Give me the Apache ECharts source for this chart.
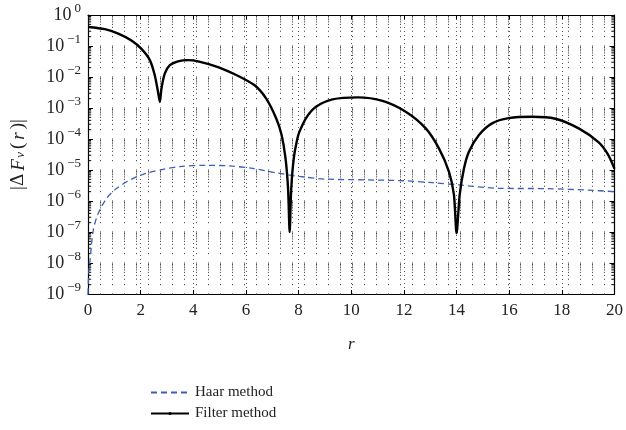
<!DOCTYPE html>
<html>
<head>
<meta charset="utf-8">
<script src="https://cdn.jsdelivr.net/npm/echarts@6/dist/echarts.min.js"></script>
<style>
html,body{margin:0;padding:0;background:#fff;}
#c{width:626px;height:430px;}
</style>
</head>
<body>
<div id="c"></div>
<script>
// ---- data ----
const haarX = [0, 0.03, 0.08, 0.2, 0.39, 0.71, 1.09, 1.72, 2.22, 2.85, 3.48, 4.5, 5.38, 6.26, 7.15, 8.03, 9.0, 10.55, 12.0, 13.08, 14.09, 15.6, 17.5, 19.0, 20];
const haarY = [1e-9, 5e-9, 1.26e-8, 1.15e-7, 4e-7, 1.23e-6, 2.57e-6, 5.4e-6, 7.9e-6, 1.05e-5, 1.29e-5, 1.41e-5, 1.35e-5, 1.12e-5, 8.1e-6, 6.2e-6, 5.1e-6, 4.8e-6, 4.5e-6, 3.9e-6, 3.3e-6, 2.57e-6, 2.5e-6, 2.24e-6, 2.0e-6];

const filterX = [0, 0.64, 1.15, 1.65, 2.03, 2.35, 2.54, 2.66, 2.73, 2.79, 2.92, 3.11, 3.42, 3.8, 4.18, 4.94, 5.69, 6.33, 6.77, 7.15, 7.35, 7.5, 7.6, 7.66, 7.72, 7.82, 7.95, 8.03, 8.3, 8.66, 9.29, 10.24, 11.19, 12.07, 12.83, 13.33, 13.71, 13.9, 14.0, 14.12, 14.28, 14.47, 14.85, 15.35, 15.98, 16.87, 17.75, 18.64, 19.39, 19.75, 20];
const filterY = [4.1e-1, 3.5e-1, 2.5e-1, 1.5e-1, 8.1e-2, 3.5e-2, 1.1e-2, 3.3e-3, 1.55e-3, 4.2e-3, 1.3e-2, 2.4e-2, 3.2e-2, 3.5e-2, 3.2e-2, 2.1e-2, 1.1e-2, 5.4e-3, 2.0e-3, 4.6e-4, 1.4e-4, 2.5e-5, 2.5e-6, 1.0e-7, 2.5e-6, 2.5e-5, 1.0e-4, 1.7e-4, 5.0e-4, 1.1e-3, 1.9e-3, 2.2e-3, 1.7e-3, 7.6e-4, 2.2e-4, 5.0e-5, 8.9e-6, 1.6e-6, 9.1e-8, 1.6e-6, 1.1e-5, 3.9e-5, 1.35e-4, 3.2e-4, 4.7e-4, 5.2e-4, 4.5e-4, 2.2e-4, 7.9e-5, 3.2e-5, 1.1e-5];

const xTicks = [0, 2, 4, 6, 8, 10, 12, 14, 16, 18, 20];
const yDecades = [-9, -8, -7, -6, -5, -4, -3, -2, -1, 0];
const minorMult = [1, 2, 3, 4, 5, 6, 7, 8, 9];
const seriesNames = ['Haar method', 'Filter method'];

// ---- build ----
const serif = 'Liberation Serif';
const pairs = (xs, ys) => xs.map((x, i) => [x, ys[i]]);
const xMin = xTicks[0], xMax = xTicks[xTicks.length - 1];
const tickLen = 0.12;

const gridData = [];
const tickData = [];
yDecades.slice(0, -1).forEach(e => {
  minorMult.forEach(m => {
    const v = m * Math.pow(10, e);
    gridData.push([xMin, v], [xMax, v], ['-', '-']);
    if (m > 1) {
      tickData.push([xMin, v], [xMin + tickLen, v], ['-', '-']);
      tickData.push([xMax - tickLen, v], [xMax, v], ['-', '-']);
    }
  });
});

const supLabel = v => {
  const e = Math.round(Math.log10(v));
  return '{b|10}{s|' + (e < 0 ? '\u2212' + (-e) : String(e)) + '}';
};

const chart = echarts.init(document.getElementById('c'), null, { renderer: 'canvas' });
chart.setOption({
  animation: false,
  backgroundColor: '#fff',
  textStyle: { fontFamily: serif },
  grid: { left: 88, right: 10, top: 15, bottom: 136, containLabel: false },
  legend: {
    orient: 'vertical',
    left: 145,
    top: 380,
    itemWidth: 38,
    itemHeight: 4,
    itemGap: 6,
    data: [
      { name: seriesNames[0], itemStyle: { color: 'rgba(0,0,0,0)', borderWidth: 0 } },
      { name: seriesNames[1], itemStyle: { color: '#000', borderWidth: 0 } }
    ],
    textStyle: { fontFamily: serif, fontSize: 15, color: '#222', padding: [0, 0, 0, 1] }
  },
  xAxis: [{
    type: 'value', min: 0, max: 20, interval: 2,
    position: 'bottom',
    name: 'r', nameLocation: 'middle', nameGap: 42,
    nameTextStyle: { fontFamily: serif, fontStyle: 'italic', fontSize: 17, color: '#222' },
    axisLine: { show: true, onZero: false, lineStyle: { color: '#000', width: 1.2 } },
    axisTick: { show: true, inside: true, length: 4, lineStyle: { color: '#000' } },
    axisLabel: { fontFamily: serif, fontSize: 17, color: '#222', margin: 8 },
    splitLine: { show: true, lineStyle: { color: '#555', type: [1, 3], width: 1 } }
  }, {
    type: 'value', min: 0, max: 20, interval: 2,
    position: 'top',
    axisLine: { show: true, onZero: false, lineStyle: { color: '#000', width: 1.2 } },
    axisTick: { show: true, inside: true, length: 4, lineStyle: { color: '#000' } },
    axisLabel: { show: false },
    splitLine: { show: false }
  }],
  yAxis: [{
    type: 'log', logBase: 10, min: 1e-9, max: 1, interval: 1,
    position: 'left',
    name: '{n||\u0394}{i|F}{sub|\u03bd}{n|(}{i|r}{n|)|}',
    nameLocation: 'middle', nameGap: 56, nameRotate: 90,
    nameTextStyle: {
      color: '#222',
      rich: {
        n: { fontFamily: serif, fontSize: 19, color: '#222', padding: [0, 1.5, 4, 1.5] },
        i: { fontFamily: serif, fontSize: 19, fontStyle: 'italic', color: '#222', padding: [0, 1.5, 4, 1.5] },
        sub: { fontFamily: serif, fontSize: 13, fontStyle: 'italic', color: '#222', padding: [0, 1.5, 0, 0] }
      }
    },
    axisLine: { show: true, onZero: false, lineStyle: { color: '#000', width: 1.2 } },
    axisTick: { show: true, inside: true, length: 5, lineStyle: { color: '#000' } },
    axisLabel: {
      margin: 7,
      formatter: supLabel,
      rich: {
        b: { fontFamily: serif, fontSize: 18, color: '#222' },
        s: { fontFamily: serif, fontSize: 13, color: '#222', padding: [0, 0, 13, 3] }
      }
    },
    splitLine: { show: false }
  }, {
    type: 'log', logBase: 10, min: 1e-9, max: 1, interval: 1,
    position: 'right',
    axisLine: { show: true, onZero: false, lineStyle: { color: '#000', width: 1.2 } },
    axisTick: { show: true, inside: true, length: 5, lineStyle: { color: '#000' } },
    axisLabel: { show: false },
    splitLine: { show: false }
  }],
  series: [{
    name: seriesNames[0],
    type: 'line',
    data: pairs(haarX, haarY),
    symbol: 'none',
    smooth: 0.3,
    lineStyle: { color: '#3a5fb5', width: 1.3, type: [6, 4] },
    itemStyle: { color: '#3a5fb5' },
    z: 3
  }, {
    name: seriesNames[1],
    type: 'line',
    data: pairs(filterX, filterY),
    symbol: 'circle',
    symbolSize: 3,
    showSymbol: false,
    smooth: 0.25,
    lineStyle: { color: '#000', width: 2.4 },
    itemStyle: { color: '#000' },
    z: 4
  }, {
    name: 'gridlines',
    type: 'line',
    data: gridData,
    silent: true,
    symbol: 'none',
    connectNulls: false,
    clip: false,
    lineStyle: { color: '#333', type: [1, 11], width: 1 },
    z: 1
  }, {
    name: 'minorticks',
    type: 'line',
    data: tickData,
    silent: true,
    symbol: 'none',
    connectNulls: false,
    clip: false,
    lineStyle: { color: '#000', type: 'solid', width: 1 },
    z: 2
  }]
});
</script>
</body>
</html>
